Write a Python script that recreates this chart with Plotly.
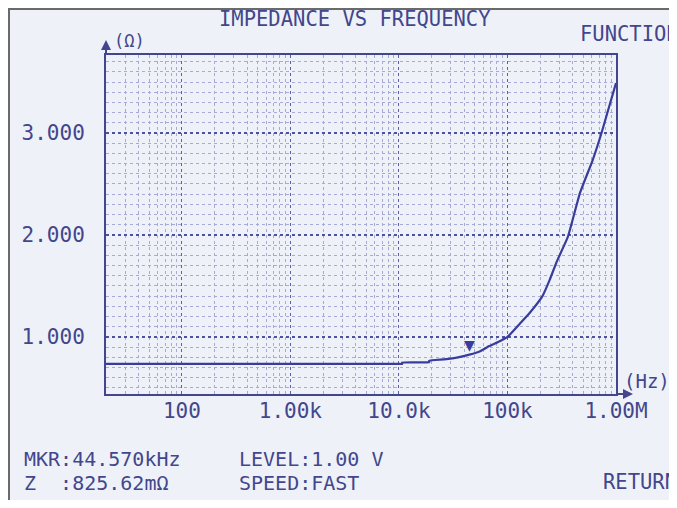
import numpy as np
import plotly.graph_objects as go

# ---- data ----
freq_hz = [20, 100, 1e3, 1e4, 1.07e4, 1.07e4, 1.9e4, 1.9e4, 2.6e4, 3.5e4, 4.457e4,
           5.6e4, 6.8e4, 8.2e4, 1e5, 1.3e5, 1.6e5, 2.1e5, 2.45e5, 2.85e5, 3.6e5,
           4.65e5, 6.1e5, 7.4e5, 8.6e5, 1e6]
z_ohm = [0.735, 0.735, 0.735, 0.735, 0.735, 0.748, 0.752, 0.765, 0.78, 0.80, 0.826,
         0.86, 0.91, 0.95, 1.0, 1.13, 1.235, 1.40, 1.56, 1.74, 1.98,
         2.41, 2.735, 3.01, 3.25, 3.49]

x_tick_vals = [100, 1e3, 1e4, 1e5, 1e6]
x_tick_text = ["100", "1.00k", "10.0k", "100k", "1.00M"]
y_tick_vals = [1, 2, 3]
y_tick_text = ["1.000", "2.000", "3.000"]

mkr_freq = 44570.0
mkr_z = 0.82562

title_text = "IMPEDANCE VS FREQUENCY"
info_lines = [("MKR:44.570kHz", 22, 459), ("Z  :825.62mΩ", 22, 483),
              ("LEVEL:1.00 V", 237, 459), ("SPEED:FAST", 237, 483)]

# ---- style ----
OFF = 8  # page body margin
W, H = 677 - 2 * OFF, 508 - 2 * OFF
L, R, T, B = 106 - OFF, 616 - OFF, 55 - OFF, 394 - OFF
INK = "#43468c"
CURVE = "#3a3c9c"
BG = "#eef2f8"
FONT = "DejaVu Sans Mono"


def px(x):
    return (x - OFF - L) / (R - L)


def py(y):
    return (B - (y - OFF)) / (B - T)


fig = go.Figure()
fig.add_trace(go.Scatter(x=freq_hz, y=z_ohm, mode="lines",
                         line=dict(color=CURVE, width=2.2, shape="spline", smoothing=0.4),
                         hoverinfo="skip", showlegend=False))

ann = []
# marker triangle
ann.append(dict(x=np.log10(mkr_freq), y=mkr_z, xref="x", yref="y", text="▼",
                showarrow=False, yanchor="bottom", xanchor="center", yshift=-2,
                font=dict(family=FONT, size=18, color=CURVE)))
# title
ann.append(dict(x=px(355), y=py(19), xref="paper", yref="paper", text=title_text,
                showarrow=False, xanchor="center", yanchor="middle",
                font=dict(family=FONT, size=20.5, color=INK)))
# labels
ann.append(dict(x=px(112), y=py(41), xref="paper", yref="paper", text="(Ω)",
                showarrow=False, xanchor="left", yanchor="middle",
                font=dict(family=FONT, size=17, color=INK)))
ann.append(dict(x=px(622), y=py(381), xref="paper", yref="paper", text="(Hz)",
                showarrow=False, xanchor="left", yanchor="middle",
                font=dict(family=FONT, size=19, color=INK)))
ann.append(dict(x=px(578), y=py(34), xref="paper", yref="paper", text="FUNCTION",
                showarrow=False, xanchor="left", yanchor="middle",
                font=dict(family=FONT, size=20.5, color=INK)))
ann.append(dict(x=px(601), y=py(482), xref="paper", yref="paper", text="RETURN",
                showarrow=False, xanchor="left", yanchor="middle",
                font=dict(family=FONT, size=20.5, color=INK)))
for txt, xx, yy in info_lines:
    ann.append(dict(x=px(xx), y=py(yy), xref="paper", yref="paper", text=txt,
                    showarrow=False, xanchor="left", yanchor="middle",
                    font=dict(family=FONT, size=20, color=INK)))
# axis arrows
ann.append(dict(x=0, y=1, xref="x domain", yref="y domain", text="",
                showarrow=True, arrowhead=2, arrowsize=1, arrowwidth=2,
                arrowcolor=INK, ax=0, ay=16, yshift=15))
ann.append(dict(x=1, y=0, xref="x domain", yref="y domain", text="",
                showarrow=True, arrowhead=2, arrowsize=1, arrowwidth=2,
                arrowcolor=INK, ax=-18, ay=0, xshift=17))

shapes = [
    dict(type="rect", xref="paper", yref="paper", x0=px(9), y0=py(9), x1=px(740),
         y1=py(560), line=dict(color="#6a6a6a", width=2), fillcolor=BG, layer="below"),
]

fig.update_layout(
    width=W, height=H,
    margin=dict(l=L, r=W - R, t=T, b=H - B, pad=0),
    paper_bgcolor="#fbfbfc", plot_bgcolor=BG,
    annotations=ann, shapes=shapes, showlegend=False,
    font=dict(family=FONT, size=21, color=INK),
)
fig.update_xaxes(
    type="log", range=[np.log10(20), 6],
    tickvals=x_tick_vals, ticktext=x_tick_text, ticks="", ticklabelstandoff=-3,
    tickfont=dict(family=FONT, size=21, color=INK),
    showline=True, linecolor=INK, linewidth=2, mirror=True,
    showgrid=True, gridcolor="#5a5fa8", gridwidth=1, griddash="dot",
    minor=dict(dtick="D1", showgrid=True, gridcolor="#a6aad4", gridwidth=1,
               griddash="dot", ticks=""),
    zeroline=False, fixedrange=True,
)
fig.update_yaxes(
    range=[0.44, 3.765],
    tickvals=y_tick_vals, ticktext=y_tick_text, ticks="", ticklabelstandoff=15,
    tickfont=dict(family=FONT, size=21, color=INK),
    showline=True, linecolor=INK, linewidth=2, mirror=True,
    showgrid=True, gridcolor="#4d52a0", gridwidth=1.5, griddash="dot",
    minor=dict(dtick=0.1, tick0=0, showgrid=True, gridcolor="#a6aad4", gridwidth=1,
               griddash="dot", ticks=""),
    zeroline=False, fixedrange=True,
)

fig.write_html("out.html")
